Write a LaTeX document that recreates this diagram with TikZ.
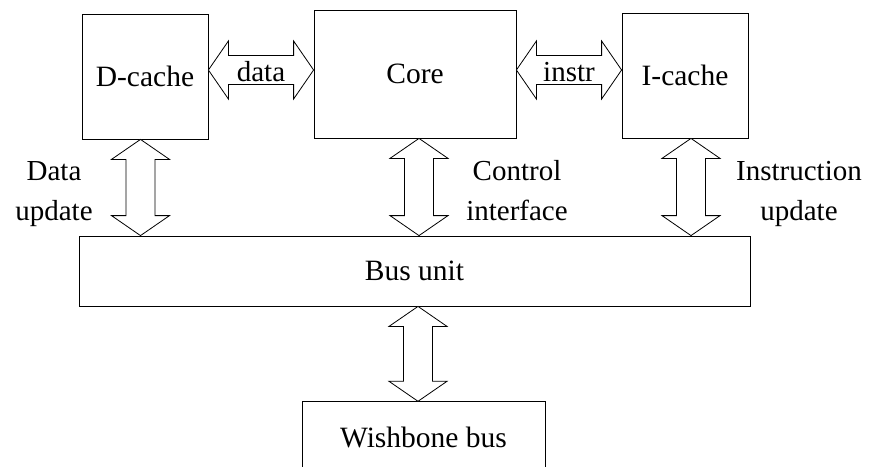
\documentclass[tikz,border=0pt]{standalone}
\usepackage{fontspec}
\setmainfont{Liberation Serif}
\usetikzlibrary{calc}
\tikzset{
  box/.style={draw=black, line width=0.8pt, inner sep=0pt, font=\fontsize{29.5}{35}\selectfont},
  dblarrow/.style={draw=black, line width=0.8pt, fill=white, line join=miter},
  lbl/.style={font=\fontsize{29}{40}\selectfont, align=center, inner sep=0pt},
  arrtext/.style={font=\fontsize{29}{35}\selectfont, inner sep=0pt},
}
\newcommand\harr[2]{\draw[dblarrow] (#1) -- ++(20,-29) -- ++(0,14.5) -- ($(#2)+(-20,-14.5)$) -- ++(0,-14.5) -- (#2) -- ++(-20,29) -- ++(0,-14.5) -- ($(#1)+(20,14.5)$) -- ++(0,14.5) -- cycle;}
\newcommand\varr[2]{\draw[dblarrow] (#1) -- ++(29,20) -- ++(-14.5,0) -- ($(#2)+(14.5,-20)$) -- ++(14.5,0) -- (#2) -- ++(-29,-20) -- ++(14.5,0) -- ($(#1)+(-14.5,20)$) -- ++(-14.5,0) -- cycle;}
\begin{document}
\begin{tikzpicture}[x=1pt,y=-1pt]
\useasboundingbox (0,0) rectangle (869,466);
\clip (0,0) rectangle (869,466);
\node[box, minimum width=126pt, minimum height=125pt] (d) at (145,76.5) {D-cache};
\node[box, minimum width=202pt, minimum height=128pt] (core) at (415,74) {Core};
\node[box, minimum width=126pt, minimum height=125pt] (i) at (685,75.5) {I-cache};
\node[box, minimum width=671pt, minimum height=70pt] (bus) at (414.5,271) {Bus unit};
\node[box, minimum width=243pt, minimum height=71pt] (wb) at (423.5,437.2) {Wishbone bus};
% horizontal arrows
\coordinate (dl) at (d.east |- 0,70);
\coordinate (cl) at (core.west |- 0,70);
\coordinate (cr) at (core.east |- 0,70);
\coordinate (il) at (i.west |- 0,70);
\harr{dl}{cl}
\harr{cr}{il}
\node[arrtext] (datat) at ($(dl)!0.5!(cl)+(0,2)$) {data};
\node[arrtext] (instrt) at ($(cr)!0.5!(il)+(0,2)$) {instr};
% vertical arrows
\coordinate (dt) at ([xshift=-4.5pt]d.south);
\coordinate (db) at (dt |- bus.north);
\coordinate (ct) at ([xshift=4pt]core.south);
\coordinate (cb) at (ct |- bus.north);
\coordinate (it) at ([xshift=6pt]i.south);
\coordinate (ib) at (it |- bus.north);
\coordinate (bt) at (bus.south -| 418,0);
\coordinate (wt) at (bt |- wb.north);
\varr{dt}{db}
\varr{ct}{cb}
\varr{it}{ib}
\varr{bt}{wt}
% labels
\node[lbl, anchor=base] (dlab) at (54,220) {Data\\update};
\node[lbl, anchor=base] (clab) at (517,220) {Control\\interface};
\node[lbl, anchor=base] (ilab) at (799,220) {Instruction\\update};
\end{tikzpicture}
\end{document}
